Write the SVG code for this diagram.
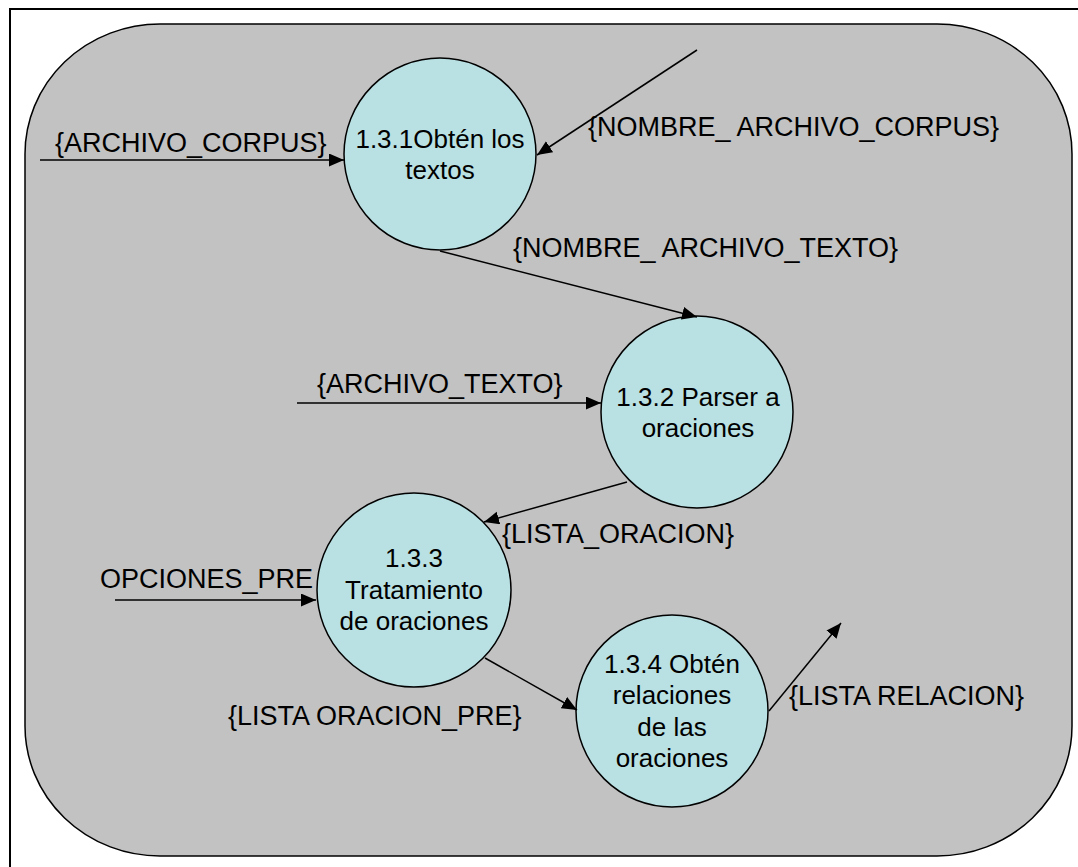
<svg xmlns="http://www.w3.org/2000/svg" width="1078" height="867" viewBox="0 0 1078 867">
  <style>
    .frame { fill: #ffffff; stroke: #000000; stroke-width: 2; }
    .boundary { fill: #c2c2c2; stroke: #000000; stroke-width: 1.5; }
    .process { fill: #b9e0e3; stroke: #000000; stroke-width: 1.5; }
    .flow { fill: none; stroke: #000000; stroke-width: 1.5; marker-end: url(#arrow); }
    text { font-family: "Liberation Sans", Arial, sans-serif; font-size: 26px; fill: #000000; }
    .lbl { font-size: 27px; }
    .c { text-anchor: middle; }
  </style>
  <defs>
    <marker id="arrow" markerUnits="userSpaceOnUse" markerWidth="16" markerHeight="14" refX="15" refY="6.5" orient="auto">
      <path d="M0,0 L15,6.5 L0,13 z" fill="#000000"/>
    </marker>
  </defs>

  <!-- page frame and system boundary -->
  <rect class="frame" x="10" y="9" width="1080" height="870"/>
  <rect class="boundary" x="25" y="24" width="1047" height="832" rx="135" ry="130"/>

  <!-- processes -->
  <g id="p131">
    <circle class="process" cx="440" cy="154" r="96"/>
    <text class="c" x="440" y="148">1.3.1Obtén los</text>
    <text class="c" x="440" y="179">textos</text>
  </g>
  <g id="p132">
    <circle class="process" cx="697" cy="412" r="96"/>
    <text class="c" x="698" y="406">1.3.2 Parser a</text>
    <text class="c" x="698" y="437">oraciones</text>
  </g>
  <g id="p133">
    <circle class="process" cx="414" cy="590" r="97"/>
    <text class="c" x="414" y="567">1.3.3</text>
    <text class="c" x="414" y="599">Tratamiento</text>
    <text class="c" x="414" y="630">de oraciones</text>
  </g>
  <g id="p134">
    <circle class="process" cx="672" cy="711" r="96"/>
    <text class="c" x="672" y="673">1.3.4 Obtén</text>
    <text class="c" x="672" y="704">relaciones</text>
    <text class="c" x="672" y="736">de las</text>
    <text class="c" x="672" y="767">oraciones</text>
  </g>

  <!-- data flows -->
  <g id="flows">
    <line class="flow" x1="40" y1="160" x2="344" y2="160"/>
    <line class="flow" x1="697" y1="50" x2="537" y2="155"/>
    <line class="flow" x1="440" y1="251" x2="697" y2="317"/>
    <line class="flow" x1="297" y1="403" x2="601" y2="403"/>
    <line class="flow" x1="627" y1="482" x2="484" y2="522"/>
    <line class="flow" x1="115" y1="600" x2="316" y2="600"/>
    <line class="flow" x1="485" y1="658" x2="577" y2="710"/>
    <line class="flow" x1="769" y1="711" x2="841" y2="623"/>
  </g>

  <!-- flow labels -->
  <g id="labels">
    <text class="lbl" x="55" y="152">{ARCHIVO_CORPUS}</text>
    <text class="lbl" x="588" y="136">{NOMBRE_ ARCHIVO_CORPUS}</text>
    <text class="lbl" x="513" y="257">{NOMBRE_ ARCHIVO_TEXTO}</text>
    <text class="lbl" x="317" y="393">{ARCHIVO_TEXTO}</text>
    <text class="lbl" x="502" y="543">{LISTA_ORACION}</text>
    <text class="lbl" x="100" y="588">OPCIONES_PRE</text>
    <text class="lbl" x="228" y="725">{LISTA ORACION_PRE}</text>
    <text class="lbl" x="789" y="705">{LISTA RELACION}</text>
  </g>
</svg>
